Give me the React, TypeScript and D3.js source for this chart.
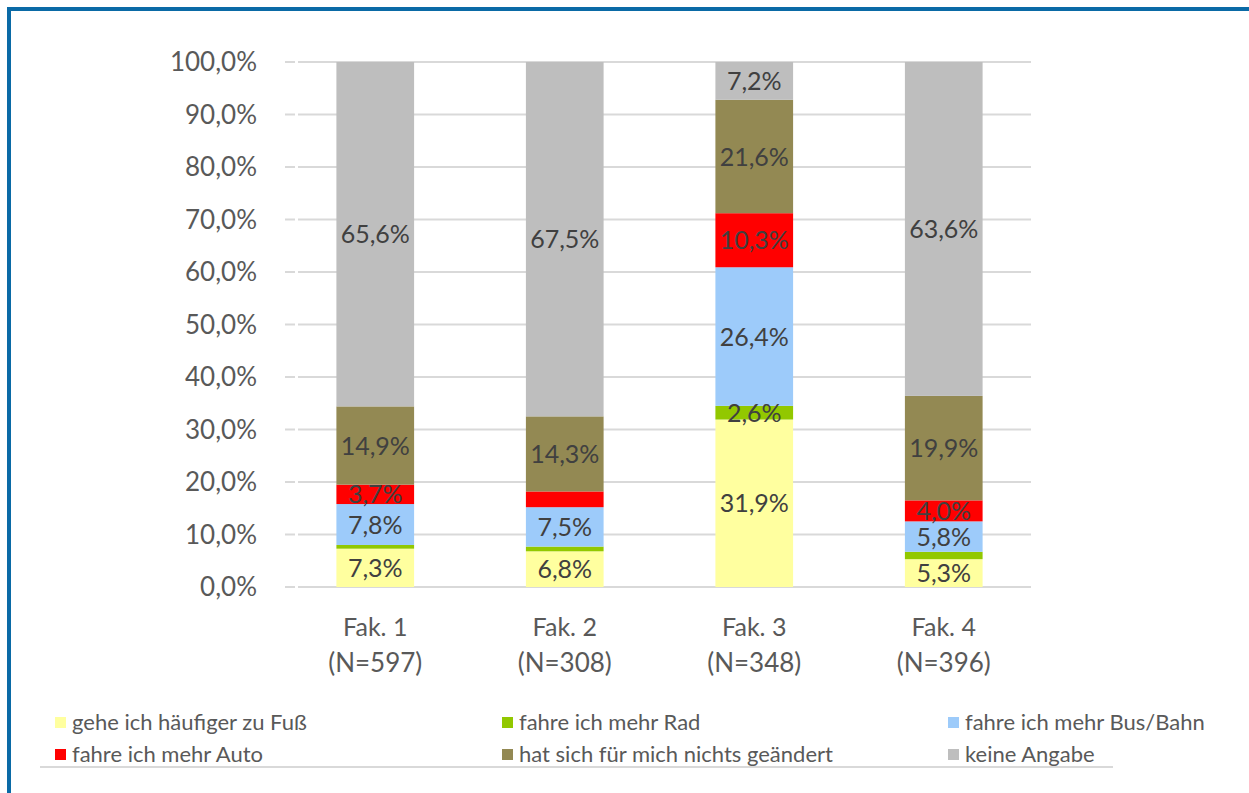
import React from "react";
import * as d3 from "d3";

const categories = ["Fak. 1", "Fak. 2", "Fak. 3", "Fak. 4"];
const sampleSizes = ["(N=597)", "(N=308)", "(N=348)", "(N=396)"];
const seriesNames = [
  "gehe ich häufiger zu Fuß",
  "fahre ich mehr Rad",
  "fahre ich mehr Bus/Bahn",
  "fahre ich mehr Auto",
  "hat sich für mich nichts geändert",
  "keine Angabe",
];
const seriesColors = ["#FFFF9F", "#92C800", "#9DCBFA", "#FF0000", "#938953", "#BEBEBE"];
const fuss = [7.3, 6.8, 31.9, 5.3];
const rad = [0.7, 0.9, 2.6, 1.4];
const busBahn = [7.8, 7.5, 26.4, 5.8];
const auto = [3.7, 3.0, 10.3, 4.0];
const nichts = [14.9, 14.3, 21.6, 19.9];
const keine = [65.6, 67.5, 7.2, 63.6];
const seriesValues = [fuss, rad, busBahn, auto, nichts, keine];
// which data labels are visible in the original (per series, per category)
const showLabels = [
  [true, true, true, true],
  [false, false, true, false],
  [true, true, true, true],
  [true, false, true, true],
  [true, true, true, true],
  [true, true, true, true],
];
const yTicks = [0, 10, 20, 30, 40, 50, 60, 70, 80, 90, 100];

const FONT = "Lato, 'Open Sans', sans-serif";

export default function App() {
  const W = 1249;
  const H = 793;
  const y = d3.scaleLinear().domain([0, 100]).range([587, 62]);
  const x = d3.scaleBand().domain(categories).range([280.5, 1038.5]).paddingInner(0.59).paddingOuter(0.295);
  const bw = x.bandwidth();
  const fmt = (v: number) => v.toFixed(1).replace(".", ",") + "%";

  const stackData = categories.map((c, i) => {
    const o: any = { cat: c };
    seriesNames.forEach((s, j) => (o[s] = seriesValues[j][i]));
    return o;
  });
  const stacked = d3.stack().keys(seriesNames)(stackData);

  const legendCols = [55, 502, 948];
  const legendRows = [723, 755];

  return (
    <svg width={W} height={H} style={{ position: "absolute", left: 0, top: 0, background: "#fff" }}>
      <rect x={0} y={0} width={W} height={H} fill="#fff" />
      {/* blue frame */}
      <rect x={7} y={7} width={W - 7} height={4} fill="#0A6AA6" />
      <rect x={7} y={7} width={4} height={H - 7} fill="#0A6AA6" />

      {/* gridlines */}
      {yTicks.map((t) => (
        <g key={t}>
          <line x1={298} x2={1031} y1={y(t)} y2={y(t)} stroke="#D9D9D9" strokeWidth={2} />
          <line x1={285} x2={295} y1={y(t)} y2={y(t)} stroke="#D9D9D9" strokeWidth={2} />
          <text x={257} y={y(t) + 9} textAnchor="end" fontFamily={FONT} fontSize={26} fill="#595959">
            {t.toFixed(1).replace(".", ",") + "%"}
          </text>
        </g>
      ))}

      {/* bars */}
      {stacked.map((layer, j) => (
        <g key={layer.key}>
          {layer.map((d, i) => (
            <rect
              key={i}
              x={x(categories[i])!}
              y={y(d[1])}
              width={bw}
              height={y(d[0]) - y(d[1])}
              fill={seriesColors[j]}
            />
          ))}
        </g>
      ))}

      {/* data labels */}
      {stacked.map((layer, j) => (
        <g key={"l" + layer.key}>
          {layer.map((d, i) =>
            showLabels[j][i] ? (
              <text
                key={i}
                x={x(categories[i])! + bw / 2}
                y={(y(d[0]) + y(d[1])) / 2 + 9}
                textAnchor="middle"
                fontFamily={FONT}
                fontSize={25}
                fill="#404040"
              >
                {fmt(seriesValues[j][i])}
              </text>
            ) : null
          )}
        </g>
      ))}

      {/* x labels */}
      {categories.map((c, i) => (
        <g key={c}>
          <text x={x(c)! + bw / 2} y={636} textAnchor="middle" fontFamily={FONT} fontSize={25} fill="#595959">
            {c}
          </text>
          <text x={x(c)! + bw / 2} y={672} textAnchor="middle" fontFamily={FONT} fontSize={26} fill="#595959">
            {sampleSizes[i]}
          </text>
        </g>
      ))}

      {/* legend */}
      {seriesNames.map((s, j) => {
        const cx = legendCols[j % 3];
        const cy = legendRows[Math.floor(j / 3)];
        return (
          <g key={s}>
            <rect x={cx} y={cy - 6} width={11} height={11} fill={seriesColors[j]} />
            <text x={cx + 17} y={cy + 7} fontFamily={FONT} fontSize={22} fill="#595959">
              {s}
            </text>
          </g>
        );
      })}
      <line x1={40} x2={1113} y1={767} y2={767} stroke="#D9D9D9" strokeWidth={2} />
    </svg>
  );
}
